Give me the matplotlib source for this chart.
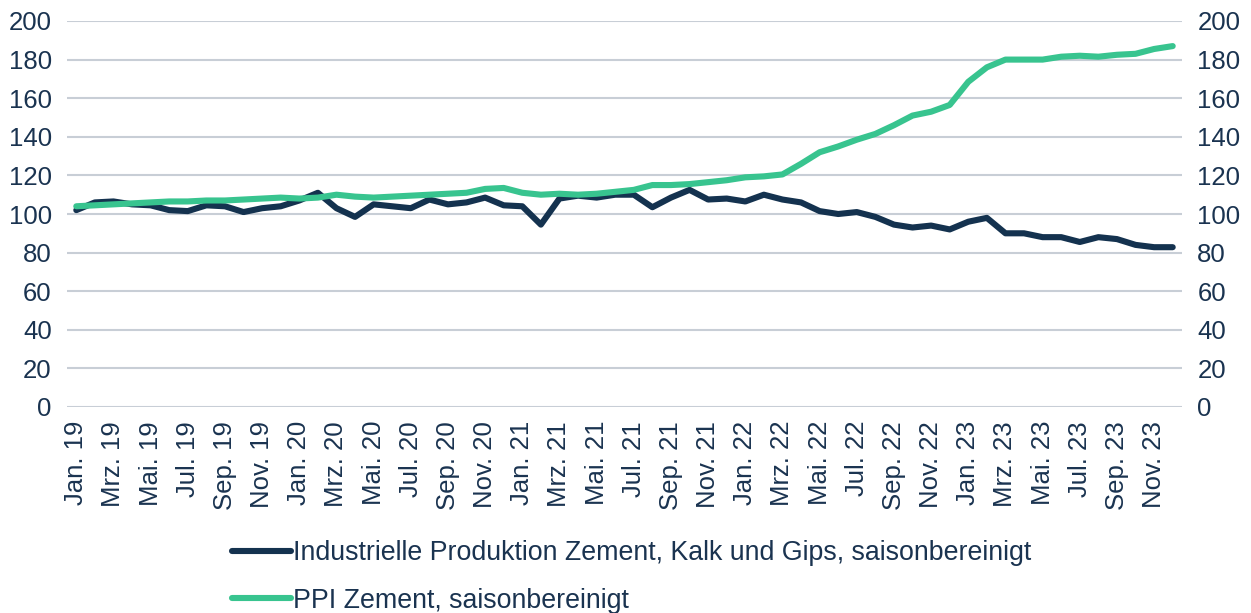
import matplotlib
matplotlib.use("Agg")
import matplotlib.pyplot as plt
import numpy as np

# monthly values Jan 2019 .. Dec 2023
months = ["Jan.", "Feb.", "Mrz.", "Apr.", "Mai.", "Jun.", "Jul.", "Aug.", "Sep.", "Okt.", "Nov.", "Dez."]
years = ["19", "20", "21", "22", "23"]
labels = [f"{m} {y}" for y in years for m in months]

produktion = [102, 106, 106.5, 105, 104.5, 102, 101.5, 104.5, 104, 101, 103, 104,
              107, 111, 103, 98.5, 105, 104, 103, 107.5, 105, 106, 108.5, 104.5,
              104, 94.5, 108, 109.5, 108.5, 110, 110, 103.5, 108.5, 112.5, 107.5, 108,
              106.5, 110, 107.5, 106, 101.5, 100, 101, 98.5, 94.5, 93, 94, 92,
              96, 98, 90, 90, 88, 88, 85.5, 88, 87, 84, 82.8, 82.8]

ppi = [104, 104.5, 105, 105.5, 106, 106.5, 106.5, 107, 107, 107.5, 108, 108.5,
       108, 108.5, 110, 109, 108.5, 109, 109.5, 110, 110.5, 111, 113, 113.5,
       111, 110, 110.5, 110, 110.5, 111.5, 112.5, 115, 115, 115.5, 116.5, 117.5,
       119, 119.5, 120.5, 126, 132, 135, 138.5, 141.5, 146, 151, 153, 156.5,
       168.5, 176, 180, 180, 180, 181.5, 182, 181.5, 182.5, 183, 185.5, 187]

navy = "#14324f"
green = "#38c48f"
text_col = "#1a3350"
grid_col = "#c8ced6"

plt.rcParams['font.family'] = ['Liberation Sans', 'DejaVu Sans']

fig = plt.figure(figsize=(12.51, 6.13), dpi=100)
ax = fig.add_axes([67 / 1251, 1 - 407 / 613, (1182 - 67) / 1251, (407 - 21) / 613])

x = np.arange(len(labels))
l1, = ax.plot(x, produktion, color=navy, lw=4.4, solid_capstyle="round", solid_joinstyle="round",
              label="Industrielle Produktion Zement, Kalk und Gips, saisonbereinigt")
l2, = ax.plot(x, ppi, color=green, lw=4.4, solid_capstyle="round", solid_joinstyle="round",
              label="PPI Zement, saisonbereinigt")

ax.set_xlim(-0.5, len(labels) - 0.5)
ax.set_ylim(0, 200)
ax.set_yticks(np.arange(0, 201, 20))
ax.yaxis.grid(True, color=grid_col, lw=1.5)
ax.set_axisbelow(True)
for s in ax.spines.values():
    s.set_visible(False)

ax.set_xticks(x[::2])
ax.set_xticklabels(labels[::2], rotation=90, fontsize=18.5, color=text_col)
ax.tick_params(axis="both", length=0, colors=text_col)
ax.tick_params(axis="y", labelsize=18.5, pad=11)
ax.tick_params(axis="x", pad=10)

ax2 = ax.twinx()
ax2.set_ylim(0, 200)
ax2.set_yticks(np.arange(0, 201, 20))
ax2.tick_params(axis="y", length=0, labelsize=18.5, colors=text_col, pad=11)
for s in ax2.spines.values():
    s.set_visible(False)

leg = fig.legend(handles=[l1, l2], loc="center left", bbox_to_anchor=(232 / 1251, 1 - 577 / 613),
                 frameon=False, handlelength=2.2, handletextpad=0.08, labelspacing=0.8,
                 borderpad=0, borderaxespad=0,
                 prop={"family": ["Liberation Sans Narrow", "Liberation Sans"], "size": 19.3})
for t in leg.get_texts():
    t.set_color(text_col)

fig.savefig("out.png", dpi=100)
